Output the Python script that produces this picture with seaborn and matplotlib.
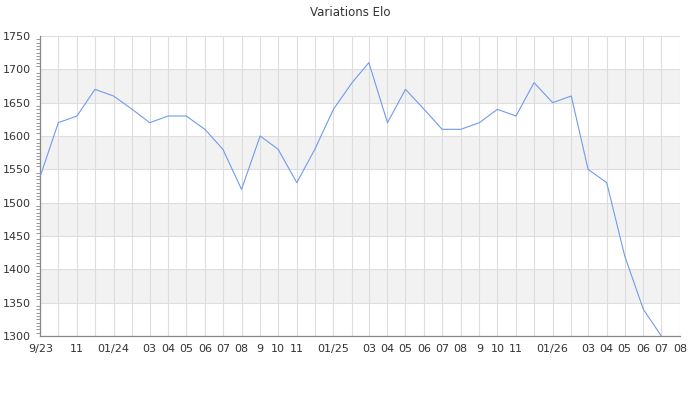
import matplotlib
matplotlib.use("Agg")
import matplotlib.pyplot as plt
import matplotlib.dates as mdates
from matplotlib.ticker import MultipleLocator
import numpy as np
import pandas as pd
import seaborn as sns

# Data (monthly Elo, Sep 2023 -> Jul 2026)
months = pd.date_range("2023-09-01", "2026-07-01", freq="MS")
elo = [1540, 1620, 1630, 1670, 1660, 1640, 1620, 1630, 1630, 1610, 1580, 1520,
       1600, 1580, 1530, 1580, 1640, 1680, 1710, 1620, 1670, 1640, 1610, 1610,
       1620, 1640, 1630, 1680, 1650, 1660, 1550, 1530, 1420, 1340, 1300]

# x ticks: every month start, some labels skipped like the original
tick_months = pd.date_range("2023-09-01", "2026-08-01", freq="MS")
tick_labels = ["9/23", "", "11", "", "01/24", "", "03", "04", "05", "06", "07", "08",
               "9", "10", "11", "", "01/25", "", "03", "04", "05", "06", "07", "08",
               "9", "10", "11", "", "01/26", "", "03", "04", "05", "06", "07", "08"]

df = pd.DataFrame({"month": months, "elo": elo})

sns.set_style("white")
plt.rcParams["font.family"] = ["DejaVu Sans"]

fig = plt.figure(figsize=(7, 4), dpi=100)
ax = fig.add_axes([0.0576, 0.16, 0.9138, 0.75])

# alternating bands
for lo in [1350, 1450, 1550, 1650]:
    ax.axhspan(lo, lo + 50, color="#f2f2f2", zorder=0, lw=0)

sns.lineplot(data=df, x="month", y="elo", ax=ax, color="#6f9bf0", lw=0.8, zorder=3)

ax.set_xlim(tick_months[0], tick_months[-1])
ax.set_ylim(1300, 1750)
ax.set_xticks(tick_months)
ax.set_xticklabels(tick_labels)
ax.yaxis.set_major_locator(MultipleLocator(50))
ax.yaxis.set_minor_locator(MultipleLocator(5))

ax.grid(True, which="major", color="#dddddd", lw=0.8, zorder=1)
ax.set_axisbelow(True)
ax.tick_params(axis="x", length=0, labelsize=8, colors="#333333", pad=6)
ax.tick_params(axis="y", which="major", length=5, width=0.8, color="#888888",
               labelsize=8, labelcolor="#333333", pad=2)
ax.tick_params(axis="y", which="minor", left=True, length=3, width=0.6, color="#888888")

for s in ["top", "right"]:
    ax.spines[s].set_visible(False)
for s in ["left", "bottom"]:
    ax.spines[s].set_color("#888888")
    ax.spines[s].set_linewidth(0.9)

ax.set_xlabel("")
ax.set_ylabel("")
fig.suptitle("Variations Elo", y=0.985, fontsize=8.5, color="#333333")

fig.savefig("out.png", dpi=100)
